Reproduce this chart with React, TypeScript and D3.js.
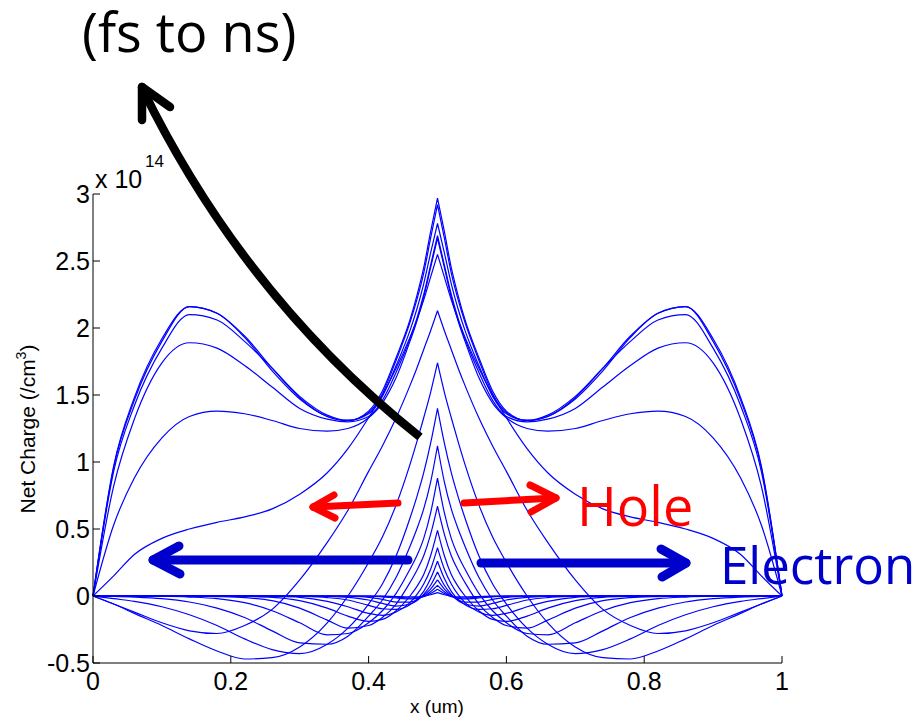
import React from "react";
import * as d3 from "d3";

// shared x grid for the left half of every curve (right half mirrors it)
const XL = [0, 0.03, 0.06, 0.1, 0.14, 0.18, 0.22, 0.26, 0.3, 0.34, 0.37, 0.4, 0.42, 0.44, 0.46, 0.47, 0.48, 0.49, 0.5];

// early-time curves (positive centre peak, negative electron dip)
const k1 = [0, 0, 0, 0, 0, 0, 0, 0, 0, 0, 0, 0, -0.001, -0.004, -0.007, -0.007, -0.002, 0.009, 0.025];
const k2 = [0, 0, 0, 0, 0, 0, 0, 0, 0, 0, 0, 0, -0.002, -0.008, -0.015, -0.014, -0.005, 0.018, 0.05];
const k3 = [0, 0, 0, 0, 0, 0, 0, 0, 0, 0, 0, -0.002, -0.006, -0.015, -0.022, -0.018, -0.002, 0.032, 0.08];
const k4 = [0, 0, 0, 0, 0, 0, 0, 0, 0, 0, -0.002, -0.01, -0.025, -0.045, -0.045, -0.03, 0.005, 0.052, 0.12];
const k5 = [0, 0, 0, 0, 0, 0, 0, 0, 0, -0.003, -0.01, -0.03, -0.055, -0.075, -0.06, -0.035, 0.012, 0.08, 0.18];
const k6 = [0, 0, 0, 0, 0, 0, 0, 0, -0.003, -0.012, -0.03, -0.07, -0.095, -0.1, -0.065, -0.025, 0.035, 0.13, 0.26];
const k7 = [0, 0, 0, 0, 0, 0, 0, -0.003, -0.01, -0.04, -0.08, -0.13, -0.145, -0.12, -0.05, 0.01, 0.09, 0.2, 0.36];
const k8 = [0, 0, 0, 0, 0, 0, -0.003, -0.01, -0.035, -0.09, -0.15, -0.19, -0.175, -0.11, 0.0, 0.07, 0.16, 0.3, 0.49];
const k9 = [0, 0, 0, 0, 0, -0.004, -0.012, -0.035, -0.09, -0.18, -0.24, -0.22, -0.16, -0.06, 0.1, 0.19, 0.3, 0.46, 0.67];
const k10 = [0, 0, 0, -0.002, -0.008, -0.02, -0.05, -0.11, -0.2, -0.29, -0.28, -0.2, -0.11, 0.02, 0.2, 0.3, 0.43, 0.62, 0.88];
const k11 = [0, -0.003, -0.008, -0.02, -0.045, -0.09, -0.16, -0.26, -0.35, -0.36, -0.3, -0.15, -0.03, 0.14, 0.37, 0.5, 0.65, 0.85, 1.12];
const k12 = [0, -0.02, -0.04, -0.08, -0.14, -0.22, -0.32, -0.4, -0.43, -0.36, -0.24, -0.06, 0.09, 0.3, 0.58, 0.74, 0.92, 1.14, 1.4];
const k13 = [0, -0.06, -0.13, -0.22, -0.32, -0.41, -0.47, -0.46, -0.38, -0.2, 0.0, 0.25, 0.44, 0.68, 0.98, 1.15, 1.33, 1.52, 1.74];
const k14 = [0, -0.06, -0.12, -0.2, -0.26, -0.28, -0.22, -0.1, 0.12, 0.4, 0.64, 0.93, 1.12, 1.33, 1.57, 1.7, 1.84, 1.98, 2.13];
// later curves (electrons extracted, holes spreading)
const c1 = [0, 0.15, 0.31, 0.43, 0.5, 0.55, 0.59, 0.65, 0.76, 0.92, 1.1, 1.33, 1.5, 1.7, 1.93, 2.06, 2.21, 2.38, 2.55];
const b1 = [0, 0.53, 0.88, 1.18, 1.34, 1.38, 1.36, 1.31, 1.25, 1.23, 1.25, 1.33, 1.44, 1.63, 1.9, 2.05, 2.23, 2.45, 2.67];
const b2 = [0, 0.82, 1.32, 1.74, 1.89, 1.85, 1.72, 1.56, 1.4, 1.32, 1.3, 1.34, 1.46, 1.67, 1.92, 2.07, 2.25, 2.47, 2.69];
const b3 = [0, 0.93, 1.42, 1.85, 2.1, 2.06, 1.9, 1.7, 1.49, 1.35, 1.31, 1.36, 1.49, 1.72, 1.98, 2.14, 2.33, 2.56, 2.78];
const b4 = [0, 0.96, 1.46, 1.9, 2.16, 2.11, 1.94, 1.7, 1.48, 1.34, 1.31, 1.37, 1.51, 1.76, 2.04, 2.21, 2.41, 2.67, 2.92];
const b5 = [0, 0.97, 1.48, 1.92, 2.16, 2.11, 1.93, 1.68, 1.47, 1.34, 1.31, 1.38, 1.53, 1.78, 2.06, 2.24, 2.45, 2.72, 2.97];

const SERIES = [k1, k2, k3, k4, k5, k6, k7, k8, k9, k10, k11, k12, k13, k14, c1, b1, b2, b3, b4, b5];

const X_TICKS = [0, 0.2, 0.4, 0.6, 0.8, 1];
const X_TICK_LABELS = ["0", "0.2", "0.4", "0.6", "0.8", "1"];
const Y_TICKS = [-0.5, 0, 0.5, 1, 1.5, 2, 2.5, 3];
const Y_TICK_LABELS = ["-0.5", "0", "0.5", "1", "1.5", "2", "2.5", "3"];

export default function App() {
  const x = d3.scaleLinear().domain([0, 1]).range([93, 782]);
  const y = d3.scaleLinear().domain([-0.5, 3]).range([663, 194]);
  const line = d3
    .line<[number, number]>()
    .x((d) => x(d[0]))
    .y((d) => y(d[1]))
    .curve(d3.curveMonotoneX);

  const paths = SERIES.map((vals) => {
    const left: [number, number][] = XL.map((xv, i) => [xv, vals[i]]);
    const right: [number, number][] = XL.map((xv, i) => [1 - xv, vals[i]] as [number, number]).reverse();
    return (line(left) || "") + (line(right) || "");
  });

  const axisFont = "Liberation Sans, Arial, Helvetica, sans-serif";
  const annFont = "'Open Sans', Lato, sans-serif";
  const blue = "#0000ff";
  const darkBlue = "#0000cc";
  const red = "#ff0000";

  const blackArc = d3.path();
  blackArc.moveTo(420, 437);
  blackArc.quadraticCurveTo(245, 298, 143, 90);

  return (
    <svg
      width={921}
      height={719}
      style={{ position: "absolute", left: 0, top: 0, background: "#fff" }}
    >
      <rect x={0} y={0} width={921} height={719} fill="#fff" />
      <g fill="none" stroke={blue} strokeWidth={1.2} strokeLinejoin="round">
        {paths.map((p, i) => (
          <path key={i} d={p} />
        ))}
      </g>

      <g stroke="#000" strokeWidth={1} fill="none">
        <line x1={x(0)} x2={x(0)} y1={y(3)} y2={y(-0.5)} />
        <line x1={x(0)} x2={x(1)} y1={y(-0.5)} y2={y(-0.5)} />
        {Y_TICKS.map((t) => (
          <line key={"yt" + t} x1={x(0)} x2={x(0) + 7} y1={y(t)} y2={y(t)} />
        ))}
        {X_TICKS.map((t) => (
          <line key={"xt" + t} x1={x(t)} x2={x(t)} y1={y(-0.5)} y2={y(-0.5) - 7} />
        ))}
      </g>
      <g fontFamily={axisFont} fontSize={25} fill="#000">
        {Y_TICKS.map((t, i) => (
          <text key={"yl" + t} x={x(0) - 3} y={y(t)} dy="0.36em" textAnchor="end">
            {Y_TICK_LABELS[i]}
          </text>
        ))}
        {X_TICKS.map((t, i) => (
          <text key={"xl" + t} x={x(t)} y={690} textAnchor="middle">
            {X_TICK_LABELS[i]}
          </text>
        ))}
        <text x={95} y={188}>
          x 10
        </text>
        <text x={145} y={167} fontSize={17}>
          14
        </text>
      </g>
      <text fontFamily={axisFont} fontSize={19} x={437} y={713} textAnchor="middle">
        x (um)
      </text>
      <text
        fontFamily={axisFont}
        fontSize={21}
        transform="translate(35,429) rotate(-90)"
        textAnchor="middle"
      >
        Net Charge (/cm
        <tspan fontSize={14} dy={-9}>
          3
        </tspan>
        <tspan dy={9}>)</tspan>
      </text>

      <g stroke="#000" strokeWidth={8.5} strokeLinecap="round" fill="none">
        <path d={blackArc.toString()} strokeLinecap="butt" />
        <line x1={142} y1={87} x2={142} y2={120} />
        <line x1={142} y1={87} x2={170} y2={107} />
      </g>
      <text x={82} y={52} fontFamily={annFont} fontSize={54} fill="#000">
        (fs to ns)
      </text>

      <g stroke={red} strokeWidth={7} strokeLinecap="round" fill="none">
        <line x1={398} y1={503} x2={314} y2={507} />
        <line x1={313} y1={507} x2={334} y2={495} />
        <line x1={313} y1={507} x2={335} y2={518} />
        <line x1={464} y1={503} x2={555} y2={498} />
        <line x1={556} y1={498} x2={530} y2={485} />
        <line x1={556} y1={498} x2={531} y2={512} />
      </g>
      <text x={577} y={526} fontFamily={annFont} fontSize={54} fill={red}>
        Hole
      </text>

      <g stroke={darkBlue} strokeWidth={9} strokeLinecap="round" fill="none">
        <line x1={408} y1={560} x2={154} y2={560} />
        <line x1={153} y1={560} x2={179} y2={546} />
        <line x1={153} y1={560} x2={180} y2={574} />
        <line x1={481} y1={563} x2={685} y2={563} />
        <line x1={686} y1={563} x2={661} y2={549} />
        <line x1={686} y1={563} x2={662} y2={577} />
      </g>
      <text x={720} y={584} fontFamily={annFont} fontSize={51} fill={darkBlue}>
        Electron
      </text>
    </svg>
  );
}
